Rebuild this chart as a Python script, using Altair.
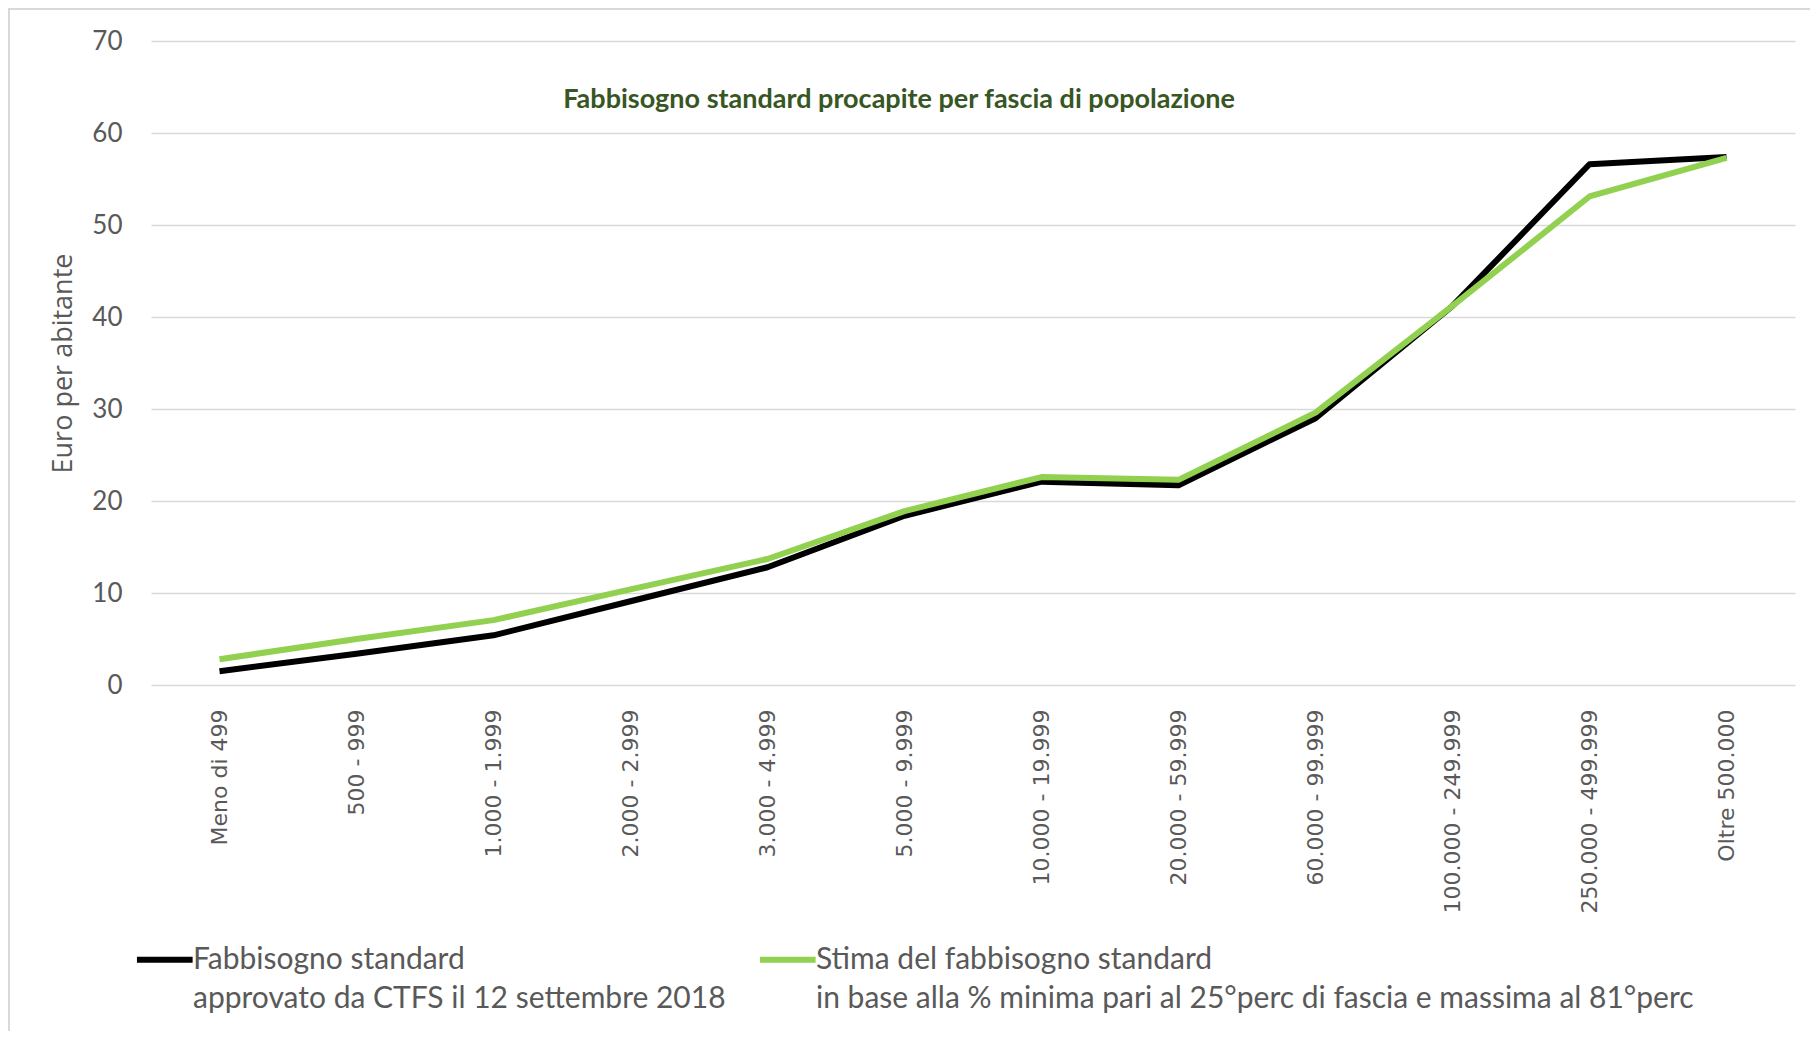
import altair as alt
import pandas as pd

categories = ["Meno di 499", "500 - 999", "1.000 - 1.999", "2.000 - 2.999", "3.000 - 4.999",
              "5.000 - 9.999", "10.000 - 19.999", "20.000 - 59.999", "60.000 - 99.999",
              "100.000 - 249.999", "250.000 - 499.999", "Oltre 500.000"]
series_names = ["Fabbisogno standard|approvato da CTFS il 12 settembre 2018",
                "Stima del fabbisogno standard|in base alla % minima pari al 25°perc di fascia e massima al 81°perc"]
black_values = [1.5, 3.4, 5.4, 9.1, 12.8, 18.4, 22.1, 21.7, 29.0, 41.2, 56.6, 57.4]
green_values = [2.8, 5.0, 7.05, 10.4, 13.7, 18.9, 22.6, 22.3, 29.6, 41.2, 53.1, 57.3]
title_text = "Fabbisogno standard procapite per fascia di popolazione"
y_title = "Euro per abitante"

rows = []
for i, c in enumerate(categories):
    rows.append({"cat": c, "serie": series_names[0], "val": black_values[i], "ord": 0})
for i, c in enumerate(categories):
    rows.append({"cat": c, "serie": series_names[1], "val": green_values[i], "ord": 1})
df = pd.DataFrame(rows)

W, H = 1644, 644

lines = alt.Chart(df).mark_line(strokeWidth=6, strokeJoin="round").encode(
    x=alt.X("cat:N", sort=categories, title=None,
            scale=alt.Scale(type="point", padding=0.5),
            axis=alt.Axis(labelAngle=270, labelFont="DejaVu Sans", labelFontSize=22,
                          labelColor="#595959", ticks=False, domain=False, grid=False,
                          labelPadding=24, labelLimit=400)),
    y=alt.Y("val:Q", title=y_title, scale=alt.Scale(domain=[0, 70]),
            axis=alt.Axis(values=[0, 10, 20, 30, 40, 50, 60, 70], labelFont="Lato",
                          labelFontSize=26, labelColor="#595959", ticks=False, domain=False,
                          gridColor="#d9d9d9", gridWidth=1.6, labelPadding=29,
                          titleFont="Open Sans", titleFontSize=27, titleFontWeight="normal",
                          titleColor="#595959", titlePadding=14)),
    color=alt.Color("serie:N", scale=alt.Scale(domain=series_names, range=["#000000", "#92d050"]),
                    legend=alt.Legend(title=None, orient="none", legendX=-20, legendY=897,
                                      direction="horizontal", columns=2,
                                      symbolType="M-0.9,-0.33H1.1",
                                      symbolSize=3100, symbolStrokeWidth=6, labelOffset=0,
                                      labelFont="Lato", labelFontSize=30, labelColor="#595959",
                                      labelLimit=1200, labelBaseline="alphabetic",
                                      labelExpr="split(datum.label, '|')", columnPadding=21,
                                      padding=0)),
    order=alt.Order("ord:Q"),
)

title_layer = alt.Chart(alt.Data(values=[{"t": title_text}])).mark_text(
    font="Lato", fontSize=27, fontWeight="bold", color="#375623", baseline="middle", align="center"
).encode(text="t:N", x=alt.value(748), y=alt.value(59))

frame = alt.Chart(alt.Data(values=[{"a": 1}])).mark_rect(
    fillOpacity=0, stroke="#d9d9d9", strokeWidth=2
).encode(x=alt.value(-142), y=alt.value(-32), x2=alt.value(1680), y2=alt.value(1020))

chart = alt.layer(frame, lines, title_layer).properties(
    width=W, height=H,
    autosize=alt.AutoSizeParams(type="none"),
    padding={"left": 143, "top": 33, "right": 15, "bottom": 346},
).configure(style={"guide-label": {"lineHeight": 39}}).configure_view(strokeWidth=0)

chart.save("out.html", embed_options={"renderer": "svg", "actions": False})
